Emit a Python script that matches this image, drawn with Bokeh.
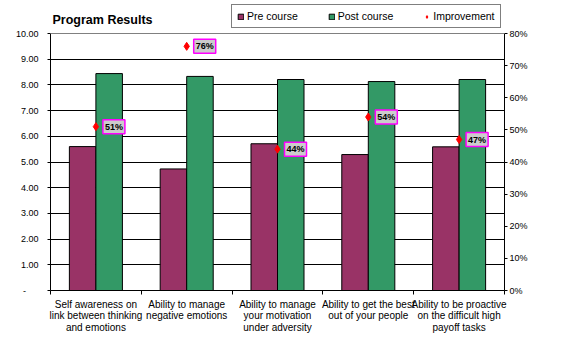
from bokeh.plotting import figure
from bokeh.models import (Range1d, LinearAxis, FixedTicker, NumeralTickFormatter,
                          Legend, LegendItem, Label, ColumnDataSource, Span)
from bokeh.embed import file_html
from bokeh.resources import INLINE

categories = [
    "Self awareness on\nlink between thinking\nand emotions",
    "Ability to manage\nnegative emotions",
    "Ability to manage\nyour motivation\nunder adversity",
    "Ability to get the best\nout of your people",
    "Ability to be proactive\non the difficult high\npayoff tasks",
]
pre_course = [5.60, 4.73, 5.71, 5.29, 5.59]
post_course = [8.44, 8.33, 8.21, 8.13, 8.21]
improvement = [0.51, 0.76, 0.44, 0.54, 0.47]
left_ticks = [0, 1, 2, 3, 4, 5, 6, 7, 8, 9, 10]
right_ticks = [0, 0.1, 0.2, 0.3, 0.4, 0.5, 0.6, 0.7, 0.8]

FONT = "Liberation Sans"
MAROON = "#993366"
GREEN = "#339966"

n = len(categories)
centers = [i + 0.5 for i in range(n)]
bar_w = 0.292
off = 0.146

# frame spans the full canvas height above the axis so that title and legend
# (which are clipped to the frame) can be drawn; axis lines are bounded at 10 / 80%
Y_MAX = 10
Y_END = Y_MAX * 290 / 257
P_MAX = 0.8
P_END = P_MAX * 290 / 257

p = figure(width=575, height=353, output_backend="svg", toolbar_location=None,
           x_range=Range1d(0, n), y_range=Range1d(0, Y_END),
           min_border_left=50, min_border_right=71, min_border_top=0, min_border_bottom=63)
p.background_fill_color = "white"
p.border_fill_color = "white"
p.outline_line_color = None

src = ColumnDataSource(dict(
    xpre=[c - off for c in centers], xpost=[c + off for c in centers], xc=centers,
    pre=pre_course, post=post_course, imp=improvement))

# grid
p.xgrid.visible = False
p.ygrid.ticker = FixedTicker(ticks=left_ticks[1:-1])
p.ygrid.grid_line_color = "black"
p.ygrid.grid_line_width = 1
p.add_layout(Span(location=Y_MAX, dimension="width", line_color="#808080", line_width=1))

r_pre = p.vbar(x="xpre", top="pre", width=bar_w, source=src, fill_color=MAROON, line_color="black", line_width=1)
r_post = p.vbar(x="xpost", top="post", width=bar_w, source=src, fill_color=GREEN, line_color="black", line_width=1)

p.extra_y_ranges = {"pct": Range1d(0, P_END)}
r_imp = p.scatter(x="xc", y="imp", source=src, y_range_name="pct", marker="diamond", size=8,
                  fill_color="#ff0000", line_color="#ff0000")

for xc, v in zip(centers, improvement):
    p.add_layout(Label(x=xc, y=v, y_range_name="pct", text=f"{round(v*100)}%", x_offset=7,
                       text_align="left", text_baseline="middle", text_font=FONT,
                       text_font_size="9px", text_font_style="bold", text_color="black", padding=2,
                       background_fill_color="#cccccc", border_line_color="#ff00ff",
                       border_line_width=1.5))

# left axis
ya = p.yaxis[0]
ya.bounds = (0, Y_MAX)
ya.ticker = FixedTicker(ticks=left_ticks)
ya.formatter = NumeralTickFormatter(format="0.00")
ya.major_label_overrides = {0: "-\u00a0\u00a0\u00a0\u00a0\u00a0"}
ya.major_tick_in = 0
ya.major_tick_out = 3
ya.minor_tick_line_color = None
ya.major_label_standoff = 9
ya.major_label_text_font = FONT
ya.major_label_text_font_size = "9px"
ya.major_label_text_color = "black"
ya.axis_line_color = "black"

# right axis
ra = LinearAxis(y_range_name="pct", ticker=FixedTicker(ticks=right_ticks),
                formatter=NumeralTickFormatter(format="0%"), bounds=(0, P_MAX))
ra.major_tick_in = 0
ra.major_tick_out = 3
ra.minor_tick_line_color = None
ra.major_label_standoff = 2
ra.major_label_text_font = FONT
ra.major_label_text_font_size = "9px"
ra.major_label_text_color = "black"
ra.axis_line_color = "black"
p.add_layout(ra, "right")

# bottom axis
xa = p.xaxis[0]
xa.ticker = FixedTicker(ticks=centers, minor_ticks=list(range(n + 1)))
xa.major_label_overrides = {c: lab for c, lab in zip(centers, categories)}
xa.major_tick_line_color = None
xa.minor_tick_in = 0
xa.minor_tick_out = 4
xa.minor_tick_line_color = "black"
xa.major_label_standoff = 2
xa.major_label_text_font = FONT
xa.major_label_text_font_size = "10px"
xa.major_label_text_line_height = 1.05
xa.major_label_text_color = "black"
xa.axis_line_color = "black"

# title
p.add_layout(Label(x=2, y=271, x_units="screen", y_units="screen", text="Program Results",
                   text_font=FONT, text_font_size="12.5px", text_font_style="bold",
                   text_baseline="alphabetic", text_align="left", text_color="black"))

legend = Legend(items=[LegendItem(label="Pre course", renderers=[r_pre]),
                       LegendItem(label="Post course", renderers=[r_post]),
                       LegendItem(label="Improvement", renderers=[r_imp])],
                location=(181, 262), orientation="horizontal")
legend.glyph_width = 7
legend.glyph_height = 7
legend.label_height = 12
legend.label_standoff = 3
legend.spacing = 30
legend.padding = 5
legend.margin = 0
legend.label_text_font = FONT
legend.label_text_font_size = "10.5px"
legend.label_text_color = "black"
legend.border_line_color = "black"
legend.border_line_width = 1
legend.background_fill_color = "white"
legend.background_fill_alpha = 1
p.add_layout(legend)

open("out.html", "w").write(file_html(p, INLINE))
